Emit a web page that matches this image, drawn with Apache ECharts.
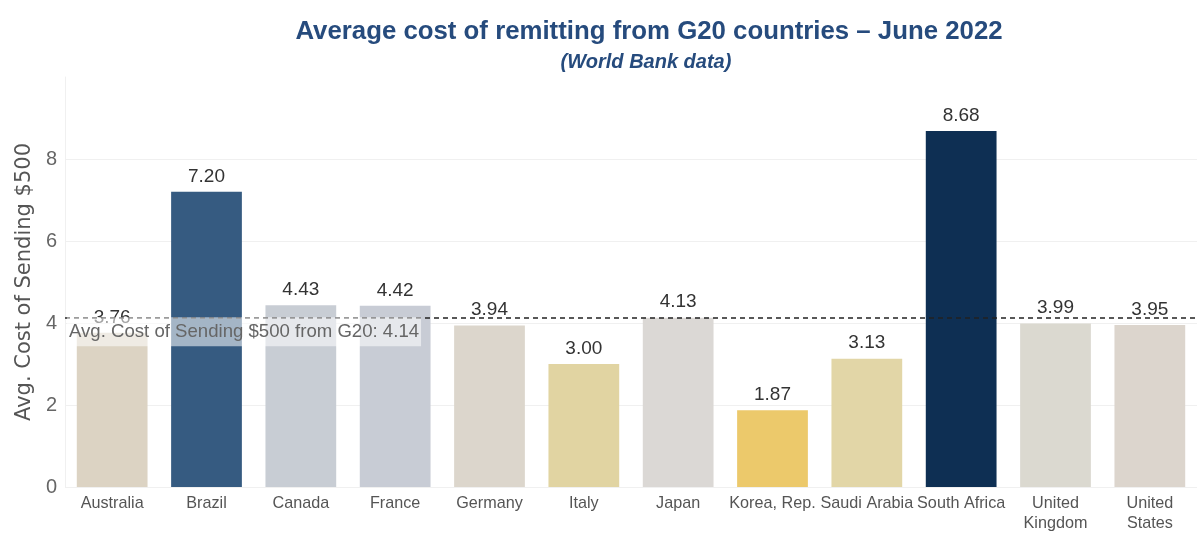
<!DOCTYPE html>
<html>
<head>
<meta charset="utf-8">
<script src="https://cdn.jsdelivr.net/npm/echarts@6/dist/echarts.min.js"></script>
<style>html,body{margin:0;padding:0;background:#fff}#c{width:1197px;height:537px}</style>
</head>
<body>
<div id="c"></div>
<script>
const categories = ['Australia','Brazil','Canada','France','Germany','Italy','Japan','Korea, Rep.','Saudi Arabia','South Africa','United\nKingdom','United\nStates'];
const values = [3.76,7.20,4.43,4.42,3.94,3.00,4.13,1.87,3.13,8.68,3.99,3.95];
const barColors = ['#dcd3c3','#365b81','#c8cdd4','#c8ccd5','#dcd6cc','#e1d4a2','#dbd8d5','#ecc96b','#e2d6a7','#0e2f53','#dbd9d0','#dcd5cd'];
const avgValue = 4.14;
const avgLabel = 'Avg. Cost of Sending $500 from G20: 4.14';
const yTicks = [0,2,4,6,8];

const font = 'Liberation Sans, Arial, sans-serif';
const chart = echarts.init(document.getElementById('c'));
chart.setOption({
  animation: false,
  title: [
    {text: 'Average cost of remitting from G20 countries \u2013 June 2022', left: 644, top: 14, textAlign: 'center',
     textStyle: {fontFamily: font, fontSize: 25.8, fontWeight: 'bold', color: '#264b7d'}},
    {text: '(World Bank data)', left: 641, top: 47, textAlign: 'center',
     textStyle: {fontFamily: font, fontSize: 20, fontWeight: 'bold', fontStyle: 'italic', color: '#264b7d'}}
  ],
  grid: {left: 65, top: 77, width: 1137, bottom: 50},
  xAxis: {
    type: 'category', data: categories,
    axisLine: {show: false}, axisTick: {show: false},
    axisLabel: {fontFamily: font, fontSize: 16.2, color: '#555', margin: 7, lineHeight: 20, interval: 0}
  },
  yAxis: {
    type: 'value', min: 0, max: 10, interval: 2,
    name: 'Avg. Cost of Sending $500', nameLocation: 'middle', nameGap: 30, nameRotate: 90,
    nameTextStyle: {fontFamily: 'DejaVu Sans, sans-serif', fontSize: 21, color: '#555'},
    axisLine: {show: true, lineStyle: {color: '#f0f0f0'}}, axisTick: {show: false},
    axisLabel: {fontFamily: font, fontSize: 20, color: '#666', margin: 8,
      formatter: v => yTicks.includes(v) ? String(v) : ''},
    splitLine: {lineStyle: {color: ['#f0f0f0','#f0f0f0','#f0f0f0','#f0f0f0','#f0f0f0','#ffffff']}}
  },
  series: [{
    type: 'bar', barWidth: '75%',
    data: values.map((v, i) => ({value: v, itemStyle: {color: barColors[i]}})),
    label: {show: true, position: 'top', distance: 6, fontFamily: font, fontSize: 19, color: '#333',
      formatter: p => p.value.toFixed(2)},
    markLine: {
      silent: true, symbol: 'none', z: 10,
      lineStyle: {type: [5,4], color: '#222', width: 1.5},
      data: [{yAxis: avgValue}],
      label: {show: true, position: 'insideStartBottom', distance: [2, 0], formatter: avgLabel,
        fontFamily: font, fontSize: 18.6, color: '#666',
        backgroundColor: 'rgba(255,255,255,0.55)', padding: [5, 2, 5, 2]}
    }
  }]
});
</script>
</body>
</html>
